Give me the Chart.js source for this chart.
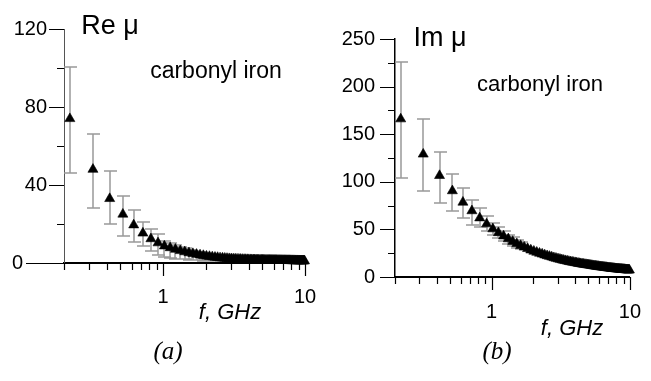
<!DOCTYPE html>
<html>
<head>
<meta charset="utf-8">
<script src="https://cdn.jsdelivr.net/npm/chart.js@4.4.0/dist/chart.umd.min.js"></script>
<style>
    body { margin: 0; background: #fff; width: 651px; height: 381px; overflow: hidden; position: relative;
           font-family: "Liberation Sans", Arial, sans-serif; color: #000; }
    canvas { position: absolute; top: 0; }
    .txt { position: absolute; transform: translate(-50%, -50%); line-height: 1; white-space: nowrap; }
    .it { font-style: italic; }
    .serif { font-family: "Liberation Serif", "Times New Roman", serif; font-style: italic; }
</style>
</head>
<body>
<canvas id="reChart" width="330" height="381" style="left:0"></canvas>
<canvas id="imChart" width="321" height="381" style="left:330px"></canvas>

<div class="txt" style="left:110px; top:25px; font-size:27px">Re μ</div>
<div class="txt" style="left:216px; top:70px; font-size:23px">carbonyl iron</div>
<div class="txt it" style="left:230px; top:312px; font-size:22px">f, GHz</div>
<div class="txt serif" style="left:168px; top:350px; font-size:25px">(a)</div>

<div class="txt" style="left:440px; top:37px; font-size:27px">Im μ</div>
<div class="txt" style="left:540px; top:84px; font-size:22px">carbonyl iron</div>
<div class="txt it" style="left:572px; top:328px; font-size:22px">f, GHz</div>
<div class="txt serif" style="left:497px; top:350px; font-size:25px">(b)</div>

<script>
// Frequenzen in GHz
const freq = [
    0.22, 0.32, 0.42, 0.52, 0.62, 0.72, 0.82, 0.92, 1.02, 1.12,
    1.22, 1.32, 1.42, 1.52, 1.62, 1.72, 1.82, 1.92, 2.02, 2.12,
    2.22, 2.32, 2.42, 2.52, 2.62, 2.72, 2.82, 2.92, 3.02, 3.12,
    3.22, 3.32, 3.42, 3.52, 3.62, 3.72, 3.82, 3.92, 4.02, 4.12,
    4.22, 4.32, 4.42, 4.52, 4.62, 4.72, 4.82, 4.92, 5.02, 5.12,
    5.22, 5.32, 5.42, 5.52, 5.62, 5.72, 5.82, 5.92, 6.02, 6.12,
    6.22, 6.32, 6.42, 6.52, 6.62, 6.72, 6.82, 6.92, 7.02, 7.12,
    7.22, 7.32, 7.42, 7.52, 7.62, 7.72, 7.82, 7.92, 8.02, 8.12,
    8.22, 8.32, 8.42, 8.52, 8.62, 8.72, 8.82, 8.92, 9.02, 9.12,
    9.22, 9.32, 9.42, 9.52, 9.62, 9.72, 9.82, 9.92
];

// Realteil der Permeabilität
const reMu = [
    74, 48, 33, 25, 19.5, 15.3, 12.4, 10.3, 8.7, 7.8,
    7.0, 6.3, 5.7, 5.2, 4.8, 4.4, 4.1, 3.8, 3.5, 3.3,
    3.1, 2.9, 2.8, 2.6, 2.5, 2.4, 2.3, 2.2, 2.1, 2.05,
    2.0, 1.95, 1.9, 1.85, 1.8, 1.78, 1.75, 1.72, 1.7, 1.67,
    1.65, 1.62, 1.6, 1.58, 1.56, 1.54, 1.52, 1.5, 1.48, 1.47,
    1.45, 1.44, 1.42, 1.41, 1.4, 1.39, 1.38, 1.37, 1.36, 1.35,
    1.34, 1.33, 1.32, 1.31, 1.3, 1.29, 1.28, 1.27, 1.26, 1.25,
    1.25, 1.24, 1.23, 1.22, 1.22, 1.21, 1.2, 1.2, 1.19, 1.18,
    1.18, 1.17, 1.17, 1.16, 1.15, 1.15, 1.14, 1.14, 1.13, 1.13,
    1.12, 1.12, 1.11, 1.11, 1.1, 1.1, 1.09, 1.09
];

// Imaginärteil der Permeabilität
const imMu = [
    166, 129, 106.5, 90.5, 78.5, 69.5, 62, 55.7, 50.5, 46.5,
    43, 40, 37.3, 35, 33, 31.3, 29.8, 28.3, 27, 25.9,
    24.9, 24, 23.1, 22.3, 21.6, 20.9, 20.2, 19.6, 19, 18.5,
    18, 17.5, 17.1, 16.7, 16.3, 15.9, 15.6, 15.3, 15, 14.7,
    14.4, 14.1, 13.9, 13.6, 13.4, 13.2, 13, 12.8, 12.6, 12.4,
    12.2, 12, 11.8, 11.6, 11.5, 11.3, 11.1, 11, 10.8, 10.7,
    10.5, 10.4, 10.3, 10.1, 10, 9.9, 9.8, 9.6, 9.5, 9.4,
    9.3, 9.2, 9.1, 9, 8.9, 8.8, 8.7, 8.6, 8.5, 8.45,
    8.4, 8.3, 8.2, 8.15, 8.1, 8, 7.95, 7.9, 7.8, 7.75,
    7.7, 7.6, 7.55, 7.5, 7.45, 7.4, 7.35, 7.3
];

// Fehlerbalken (untere / obere Grenze) der ersten Messpunkte
const reErrLow  = [46, 28, 20, 14, 11, 8.5, 6, 4.2, 3, 2.5, 2.2, 2.0, 1.8, 1.6, 1.5, 1.4, 1.3, 1.2, 1.1, 1.0, 1.0, 0.9, 0.9, 0.8];
const reErrHigh = [100.5, 66, 47, 34.5, 27, 21, 17.5, 14.7, 11.5, 10.2, 9.2, 8.3, 7.5, 6.8, 6.3, 5.8, 5.4, 5.0, 4.6, 4.3, 4.0, 3.8, 3.6, 3.4];
const imErrLow  = [104, 90, 78, 69, 61.5, 55, 53, 48, 44, 40.5, 37.5, 35, 32.5, 30.5, 29];
const imErrHigh = [226, 166, 131, 108.5, 93, 80.5, 72, 64, 57, 52, 48, 44.5, 41.5, 39, 36.5];

// Achsenteilung
const xTicks = [0.2, 0.3, 0.4, 0.5, 0.6, 0.7, 0.8, 0.9, 1, 2, 3, 4, 5, 6, 7, 8, 9, 10];
const xLabeled = [1, 10];
const reYTicks = [0, 20, 40, 60, 80, 100, 120];
const reYLabeled = [40, 80, 120];
const imYTicks = [0, 25, 50, 75, 100, 125, 150, 175, 200, 225, 250];
const imYLabeled = [0, 50, 100, 150, 200, 250];

const tickFont = { family: 'Liberation Sans', size: 20 };

// Fehlerbalken und Teilstriche selbst zeichnen (Haupt-/Nebenstriche unterschiedlich lang)
const decoPlugin = {
    id: 'deco',
    beforeDatasetsDraw(chart, args, opts) {
        const { ctx, scales: { x, y } } = chart;
        ctx.save();
        ctx.strokeStyle = '#999';
        ctx.lineWidth = 1.5;
        ctx.beginPath();
        opts.lo.forEach(function(lo, i) {
            const px = Math.round(x.getPixelForValue(freq[i]));
            const pLo = Math.round(y.getPixelForValue(lo));
            const pHi = Math.round(y.getPixelForValue(opts.hi[i]));
            ctx.moveTo(px, pLo); ctx.lineTo(px, pHi);
            ctx.moveTo(px - 6, pLo); ctx.lineTo(px + 7, pLo);
            ctx.moveTo(px - 6, pHi); ctx.lineTo(px + 7, pHi);
        });
        ctx.stroke();
        ctx.restore();
    },
    afterDraw(chart, args, opts) {
        const { ctx, chartArea: a, scales: { x, y } } = chart;
        ctx.save();
        ctx.strokeStyle = '#000';
        ctx.lineWidth = 1.2;
        ctx.beginPath();
        x.ticks.forEach(function(t) {
            const px = Math.round(x.getPixelForValue(t.value)) + 0.5;
            const len = xLabeled.includes(t.value) ? 13 : 7;
            ctx.moveTo(px, a.bottom); ctx.lineTo(px, a.bottom + len);
        });
        y.ticks.forEach(function(t) {
            const py = Math.round(y.getPixelForValue(t.value)) + 0.5;
            let len = opts.major.includes(t.value) ? 15 : 7;
            if (t.value === 0 && opts.zeroLen) len = opts.zeroLen;
            ctx.moveTo(a.left, py); ctx.lineTo(a.left - len, py);
        });
        ctx.stroke();
        // Null-Beschriftung links neben der verlängerten Achse
        if (opts.zeroLabelX) {
            ctx.fillStyle = '#000';
            ctx.font = tickFont.size + 'px ' + tickFont.family;
            ctx.textAlign = 'right';
            ctx.textBaseline = 'middle';
            ctx.fillText('0', opts.zeroLabelX, y.getPixelForValue(0));
        }
        ctx.restore();
    }
};

function makeChart(canvasId, values, cfg) {
    const ctx = document.getElementById(canvasId).getContext('2d');
    return new Chart(ctx, {
        type: 'scatter',
        data: {
            datasets: [{
                data: freq.map(function(f, i) { return { x: f, y: values[i] }; }),
                pointStyle: 'triangle',
                pointRadius: 5.8,
                backgroundColor: '#000',
                borderColor: '#000',
                borderWidth: 0.6,
                showLine: false,
                clip: false
            }]
        },
        options: {
            responsive: false,
            animation: false,
            layout: { padding: { top: cfg.top, right: cfg.right, left: 0, bottom: 0 } },
            plugins: {
                legend: { display: false },
                tooltip: { enabled: false },
                deco: cfg.deco
            },
            scales: {
                x: {
                    type: 'logarithmic',
                    min: 0.2,
                    max: 10,
                    afterBuildTicks: function(s) { s.ticks = xTicks.map(function(v) { return { value: v }; }); },
                    afterFit: function(s) { s.height = cfg.xHeight; },
                    ticks: {
                        autoSkip: false,
                        maxRotation: 0,
                        padding: cfg.xPad,
                        color: '#000',
                        font: tickFont,
                        callback: function(v) { return xLabeled.includes(v) ? String(v) : ''; }
                    },
                    grid: { drawOnChartArea: false, drawTicks: true, tickLength: 13, tickColor: 'rgba(0,0,0,0)' },
                    border: { display: true, color: '#000', width: 2 }
                },
                y: {
                    type: 'linear',
                    min: cfg.yTicks[0],
                    max: cfg.yTicks[cfg.yTicks.length - 1],
                    afterBuildTicks: function(s) { s.ticks = cfg.yTicks.map(function(v) { return { value: v }; }); },
                    afterFit: function(s) { s.width = cfg.yWidth; },
                    ticks: {
                        autoSkip: false,
                        padding: cfg.yPad,
                        color: '#000',
                        font: tickFont,
                        callback: function(v) { return cfg.yLabeled.includes(v) ? String(v) : ''; }
                    },
                    grid: { drawOnChartArea: false, drawTicks: true, tickLength: 15, tickColor: 'rgba(0,0,0,0)' },
                    border: { display: true, color: cfg.yAxisColor, width: cfg.yAxisWidth }
                }
            }
        },
        plugins: [decoPlugin]
    });
}

// (a) Realteil
makeChart('reChart', reMu, {
    top: 29, right: 25, xHeight: 118, yWidth: 64, xPad: 9, yPad: 2,
    yTicks: reYTicks, yLabeled: reYLabeled,
    yAxisColor: '#555', yAxisWidth: 1,
    deco: { lo: reErrLow, hi: reErrHigh, major: [0, 40, 80, 120], zeroLen: 38, zeroLabelX: 23 }
});

// (b) Imaginärteil
makeChart('imChart', imMu, {
    top: 39, right: 14, xHeight: 104, yWidth: 65, xPad: 10, yPad: 5,
    yTicks: imYTicks, yLabeled: imYLabeled,
    yAxisColor: '#000', yAxisWidth: 1.5,
    deco: { lo: imErrLow, hi: imErrHigh, major: imYLabeled, zeroLen: 0, zeroLabelX: 0 }
});
</script>
</body>
</html>
